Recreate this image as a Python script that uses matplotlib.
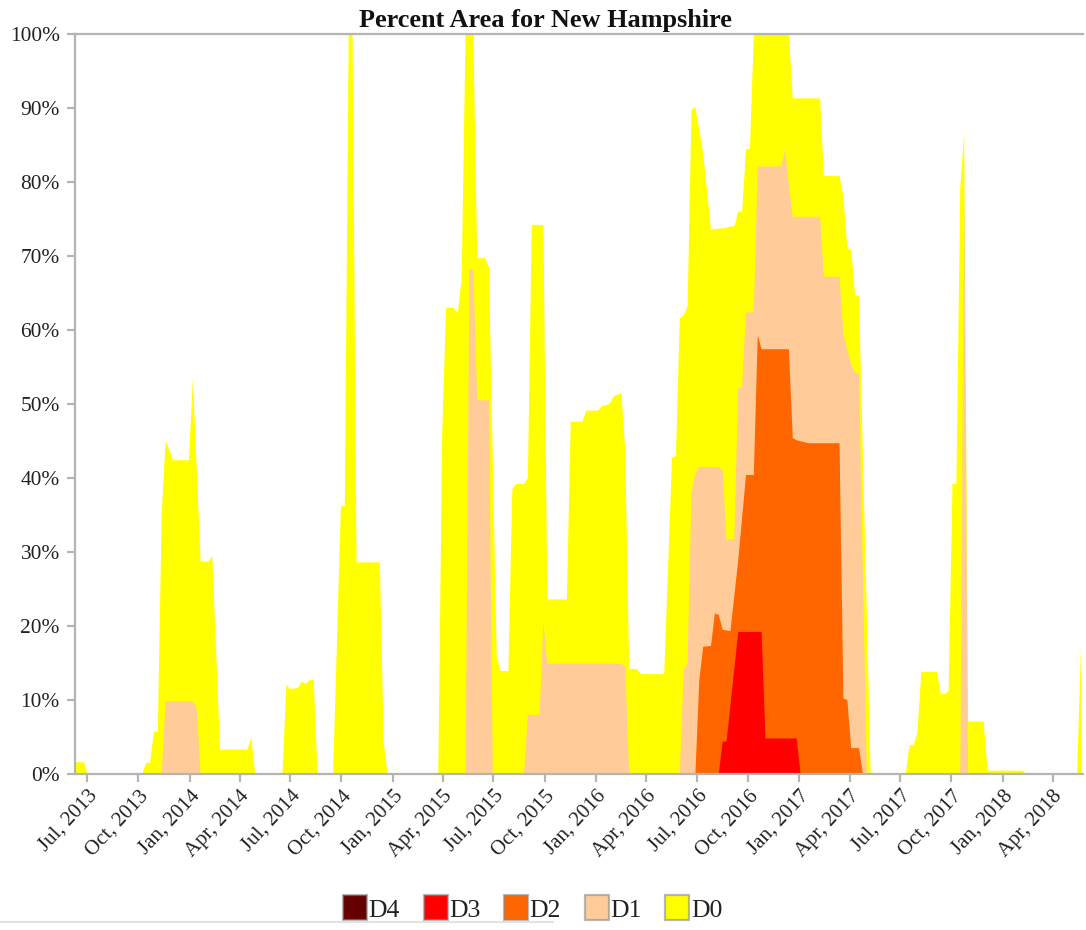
import matplotlib
matplotlib.use('Agg')
import matplotlib.pyplot as plt
import numpy as np
import pandas as pd
from matplotlib.patches import Rectangle
from matplotlib.lines import Line2D

plt.rcParams['font.family'] = ['Liberation Serif', 'DejaVu Serif']

# ---------------- data (weekly Drought Monitor, vertices: week index since START, percent area) -------------
START = '2013-06-11'
LAST_WEEK = 258

d0_week = [0, 2, 3, 17, 18, 19, 20, 21, 22, 23, 25, 29, 30, 32, 34, 35, 37, 44, 45, 46,
           53, 54, 55, 57, 58, 59, 60, 61, 62,
           66, 68, 69, 70, 71, 72, 78, 79, 80,
           93, 94, 95, 97, 98, 99, 100, 102, 103, 105, 106, 108, 109, 111, 112, 113, 115, 116,
           117, 120, 121, 126, 127, 130, 131, 134, 135, 137, 138, 140, 141, 142, 144, 145, 151,
           153, 154, 155, 156, 157, 158, 159, 161, 163, 167, 168, 169, 170, 171, 172, 173, 174,
           183, 184, 191, 192, 196, 197, 198, 199, 200, 201, 204,
           213, 214, 215, 216, 217, 221, 222, 223, 224, 225, 226, 227, 228, 229, 233, 234, 243,
           244, 257, 258]
d0_pct = [1.6, 1.6, 0, 0, 1.5, 1.5, 5.7, 5.7, 35, 45, 42.4, 42.4, 53.5, 28.7, 28.7, 29.4, 3.3, 3.3, 5.0, 0,
          0, 12.0, 11.5, 11.6, 12.5, 12.2, 12.7, 12.8, 0,
          0, 36.2, 36.2, 100, 100, 28.6, 28.6, 4.2, 0,
          0, 46, 63, 63, 62.3, 66.9, 100, 100, 69.7, 69.7, 68.5, 15.9, 13.9, 13.9, 38.5, 39.2, 39.2, 40,
          74.2, 74.2, 23.6, 23.6, 47.6, 47.6, 49.1, 49.1, 49.7, 50, 51, 51.5, 43.7, 14.2, 14.2, 13.5, 13.5,
          42.7, 43, 61.6, 62, 63.2, 89.8, 90.1, 83.9, 73.6, 73.8, 74, 74, 76, 76, 84.4, 84.5, 100,
          100, 91.3, 91.3, 80.8, 80.8, 78, 71.1, 70.8, 64.6, 64.6, 0,
          0, 3.9, 3.9, 5.5, 13.8, 13.8, 10.8, 10.8, 11.2, 39.2, 39.2, 79.2, 86.6, 7.1, 7.1, 0.45, 0.45,
          0, 0, 17.5]

d1_week = [0, 22, 23, 30, 31, 32,
           100, 101, 102, 103, 106, 107,
           115, 116, 119, 120, 121, 140, 141, 142,
           155, 156, 157, 158, 159, 160, 165, 166, 167, 169, 170, 171, 172, 174, 175, 181, 182, 184,
           191, 192, 196, 197, 198, 199, 200, 201, 203,
           227, 228, 229, 258]
d1_pct = [0, 0, 9.8, 9.8, 8.9, 0,
          0, 68.3, 68, 50.5, 50.5, 0,
          0, 8, 8, 20.4, 14.9, 14.9, 14.5, 0,
          0, 14, 15, 38, 40.6, 41.5, 41.5, 41, 31.6, 31.8, 52.1, 52.3, 62.3, 62.5, 82.1, 82.1, 84.3, 75.3,
          75.3, 67.2, 67.2, 59.5, 57.3, 55.3, 54.3, 54, 0,
          0, 80, 0, 0]

d2_week = [0, 159, 160, 161, 163, 164, 165, 166, 168, 170, 172, 174, 175, 176, 183, 184, 185, 188,
           196, 197, 198, 199, 201, 202, 258]
d2_pct = [0, 0, 12.7, 17.2, 17.3, 21.7, 21.5, 19.5, 19.3, 28.9, 40.4, 40.4, 59.3, 57.4, 57.4, 45.4, 45.1, 44.7,
          44.7, 10.2, 10, 3.5, 3.5, 0, 0]

d3_week = [0, 165, 166, 167, 170, 176, 177, 185, 186, 258]
d3_pct = [0, 0, 4.4, 4.4, 19.2, 19.2, 4.8, 4.8, 0, 0]

d4_week = [0, 258]
d4_pct = [0, 0]

categories = ['D4', 'D3', 'D2', 'D1', 'D0']
colors = {'D4': '#660000', 'D3': '#FF0000', 'D2': '#FF6600', 'D1': '#FFCC99', 'D0': '#FFFF00'}
series = {'D0': (d0_week, d0_pct), 'D1': (d1_week, d1_pct), 'D2': (d2_week, d2_pct),
          'D3': (d3_week, d3_pct), 'D4': (d4_week, d4_pct)}

y_ticks = list(range(0, 101, 10))
tick_dates = pd.date_range('2013-07-01', '2018-04-01', freq='QS-JAN')


def to_dates(weeks):
    return pd.Timestamp(START) + pd.to_timedelta(np.asarray(weeks, dtype=float) * 7, unit='D')


# ---------------- figure -------------
W, H = 1086, 930
fig = plt.figure(figsize=(W / 100, H / 100), dpi=100)
ax = fig.add_axes([75 / W, 156 / H, 1008 / W, 740 / H])

for cat in ['D0', 'D1', 'D2', 'D3', 'D4']:
    wk, pc = series[cat]
    ax.fill_between(to_dates(wk), pc, 0, facecolor=colors[cat], edgecolor='none', linewidth=0, zorder=2)

start = pd.Timestamp(START)
ax.set_xlim(start - pd.Timedelta(days=1.8), start + pd.Timedelta(days=1809.5))
ax.set_ylim(0, 100)

grey = '#b4b4b4'
for s in ['left', 'top', 'bottom']:
    ax.spines[s].set_color(grey)
    ax.spines[s].set_linewidth(1.6)
    ax.spines[s].set_zorder(5)
ax.spines['right'].set_visible(False)

ax.set_yticks(y_ticks)
ax.set_yticklabels([f'{v}%' for v in y_ticks])
ax.set_xticks(tick_dates)
ax.set_xticklabels([d.strftime('%b, %Y') for d in tick_dates], rotation=47, ha='right',
                   va='top', rotation_mode='anchor')
ax.tick_params(axis='both', colors=grey, length=6, width=1.6, labelcolor='#222222')
ax.tick_params(axis='y', labelsize=15.4, pad=5)
ax.tick_params(axis='x', labelsize=15, pad=3)

fig.text(545 / W, 1 - 26.7 / H, 'Percent Area for New Hampshire', ha='center', va='baseline',
         fontsize=18.9, fontweight='bold', color='#111111')

# legend
for i, cat in enumerate(categories):
    x0 = 343 + i * 80.6
    fig.add_artist(Rectangle((x0 / W, 1 - 919.5 / H), 24 / W, 25 / H, transform=fig.transFigure,
                             facecolor=colors[cat], edgecolor=(0.55, 0.55, 0.55, 0.6), linewidth=1.6))
    fig.text((x0 + 25.5) / W, 1 - 916.7 / H, cat, ha='left', va='baseline', fontsize=18.5,
             color='#222222')

fig.add_artist(Line2D([0, 553 / W], [1 - 921.7 / H] * 2, transform=fig.transFigure,
                      color='#e2e2e2', linewidth=1.5))

fig.savefig('out.png', dpi=100, facecolor='white')
